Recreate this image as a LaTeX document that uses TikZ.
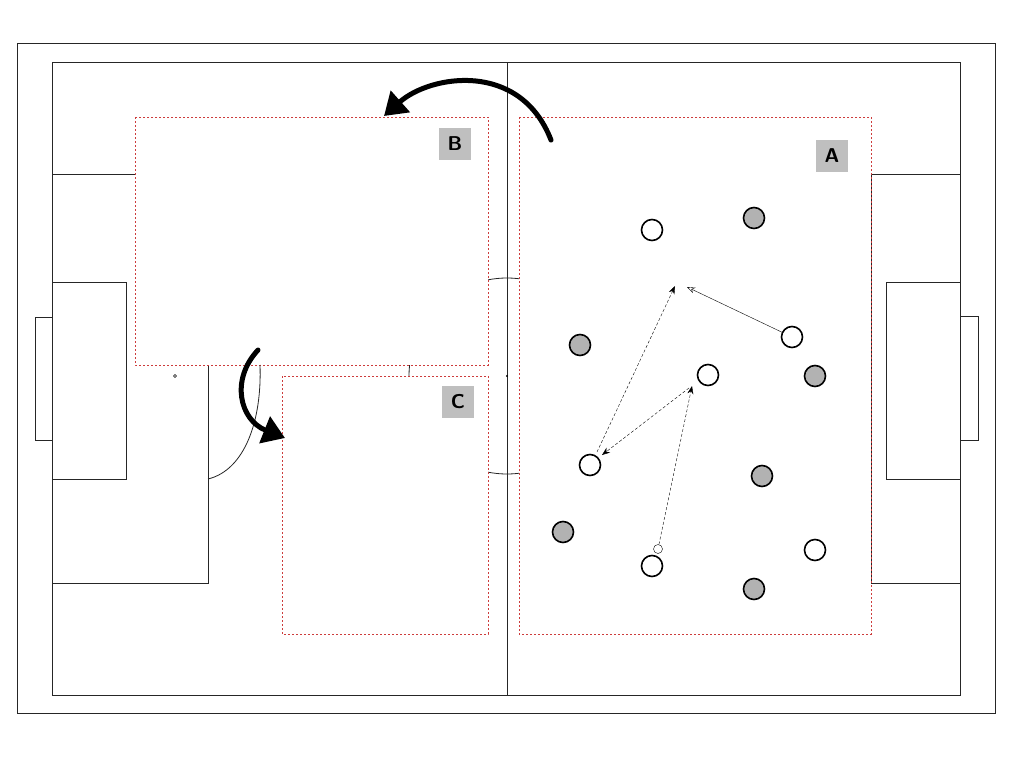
\documentclass[tikz,border=0pt]{standalone}
\usetikzlibrary{arrows.meta}
\definecolor{zred}{RGB}{205,60,60}
\begin{document}
\begin{tikzpicture}[x=1pt,y=-1pt,
  ln/.style={draw=black!85,line width=0.8pt},
  zone/.style={draw=zred,dash pattern=on 2pt off 2pt,line width=0.8pt,fill=white},
  lab/.style={fill=black!25,minimum size=32pt,inner sep=0pt,font=\sffamily\bfseries\fontsize{20}{24}\selectfont},
  wp/.style={circle,draw,line width=1.6pt,fill=white,minimum size=21pt,inner sep=0pt},
  gp/.style={circle,draw,line width=1.6pt,fill=black!30,minimum size=21pt,inner sep=0pt},
  run/.style={dashed,dash pattern=on 3pt off 2pt,-{Stealth[length=8pt,width=6pt]}},
  big/.style={line width=5pt,line cap=round,-{Triangle[length=22pt,width=28pt]}}]
\useasboundingbox (0,0) rectangle (1024,768);
\draw[ln] (17,43) rectangle (995,713);
\draw[ln] (52,62) rectangle (960,695);
\draw[ln] (507,62) -- (507,695);
\draw[ln] (507,376) circle (98);
\fill (507,376) circle (1.2);
% left
\draw[ln] (52,174) rectangle (208,583);
\draw[ln] (52,282) rectangle (126,479);
\draw[ln] (35,317) rectangle (52,440);
\draw (175,376) circle (1.5);
% right
\draw[ln] (871,174) rectangle (960,583);
\draw[ln] (886,282) rectangle (960,479);
\draw[ln] (960,316) rectangle (978,440);
% zones
\draw[zone] (135,117) rectangle (488,365);
\draw[zone] (282,376) rectangle (488,634);
\draw[zone] (519,117) rectangle (871,634);
\draw[ln] (208,479) .. controls (245,470) and (262,420) .. (260,365);
\node[lab] (B) at (455,144) {B};
\node[lab] (A) at (832,156) {A};
\node[lab] (C) at (458,402) {C};
% players
\node[wp] (w1) at (652,230) {};
\node[wp] (w2) at (792,337) {};
\node[wp] (w3) at (708,375) {};
\node[wp] (w4) at (590,465) {};
\node[wp] (w5) at (652,566) {};
\node[wp] (w6) at (815,550) {};
\node[gp] (g1) at (754,218) {};
\node[gp] (g2) at (580,345) {};
\node[gp] (g3) at (815,376) {};
\node[gp] (g4) at (762,476) {};
\node[gp] (g5) at (563,532) {};
\node[gp] (g6) at (754,589) {};
\node[circle,draw,inner sep=0pt,minimum size=9pt] (ball) at (658,549) {};
\coordinate (t1) at (687,287);
\coordinate (t2) at (675,286);
\coordinate (t3) at (692,386);
\coordinate (t4) at (602,455);
\draw[-{Stealth[length=8pt,width=6pt,open]}] (w2) -- (t1);
\draw[run] (597,452) -- (t2);
\draw[run] (689,388) -- (t4);
\draw[run] (ball) -- (t3);
\coordinate (s1) at (551,140);
\coordinate (e1) at (384,116);
\draw[big] (s1) .. controls (520,60) and (430,75) .. (e1);
\coordinate (s2) at (258,350);
\coordinate (e2) at (285,438);
\draw[big] (s2) .. controls (230,380) and (240,420) .. (e2);
\end{tikzpicture}
\end{document}
